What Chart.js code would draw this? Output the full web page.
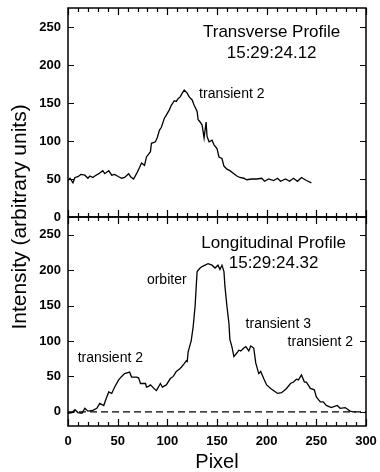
<!DOCTYPE html>
<html>
<head>
<meta charset="utf-8">
<script src="https://cdn.jsdelivr.net/npm/chart.js@4"></script>
<style>
  html, body { margin: 0; padding: 0; background: #fff; }
  #wrap { position: relative; width: 380px; height: 472px; }
</style>
</head>
<body>
<div id="wrap"><canvas id="profiles"></canvas></div>
<script>
// Transverse profile (top panel)
const transPixel = [0, 2, 5, 7, 10, 13, 17, 20, 22, 25, 27, 31, 35, 37, 41, 44, 47, 51, 54, 57,
  61, 63, 66, 69, 72, 74, 77, 79, 83, 84, 88, 90, 92, 94, 97, 99, 102, 104, 107, 109,
  111, 113, 115, 117, 120, 122, 125, 127, 130, 131, 133, 135, 137, 139, 140, 142, 145, 147, 150, 152,
  155, 157, 160, 163, 166, 170, 173, 177, 180, 185, 190, 195, 198, 202, 207, 211, 214, 219, 223, 227,
  231, 235, 240, 245];
const transIntensity = [48, 51, 45, 52, 53, 56, 55, 51, 54, 52, 54, 57, 61, 57, 61, 55, 56, 53, 51, 52,
  57, 53, 50, 57, 65, 71, 68, 79, 86, 97, 99, 105, 114, 118, 130, 134, 141, 147, 153, 152,
  156, 158, 163, 167, 163, 158, 154, 147, 139, 128, 125, 121, 104, 125, 106, 99, 101, 95, 90, 79,
  77, 67, 63, 61, 58, 54, 52, 51, 49, 50, 50, 51, 47, 50, 48, 51, 47, 50, 47, 51,
  47, 52, 48, 45];

// Longitudinal profile (bottom panel)
const longPixel = [0, 4, 7, 10, 14, 17, 20, 25, 29, 32, 36, 38, 41, 44, 47, 51, 54, 57, 62, 64,
  69, 71, 73, 78, 79, 81, 83, 88, 89, 93, 95, 99, 103, 106, 109, 112, 114, 117, 119, 120,
  121, 124, 126, 128, 129, 130, 133, 135, 138, 141, 145, 148, 151, 153, 155, 157, 158, 160, 162, 163,
  165, 167, 170, 172, 174, 177, 179, 182, 184, 187, 189, 192, 194, 197, 200, 204, 209, 211, 215, 220,
  224, 227, 230, 232, 235, 238, 240, 244, 248, 250, 254, 257, 260, 265, 271, 274, 279, 284, 287, 290];
const longIntensity = [-2, -1, 3, -1, -2, 5, 1, 2, 5, 12, 9, 17, 28, 26, 35, 45, 50, 54, 56, 49,
  49, 48, 40, 40, 35, 36, 38, 31, 30, 40, 35, 38, 47, 50, 57, 60, 63, 68, 72, 71,
  85, 100, 120, 150, 175, 198, 203, 205, 207, 209, 207, 203, 207, 201, 207, 198, 177, 149, 125, 102,
  92, 78, 83, 87, 86, 90, 92, 86, 93, 90, 69, 54, 57, 47, 38, 33, 28, 26, 27, 33,
  40, 42, 46, 45, 52, 42, 42, 33, 31, 21, 14, 14, 9, 6, 9, 5, 6, 1, 0, 0];

// Zero reference (dashed) in the bottom panel
const zeroPixel = [0, 300];
const zeroIntensity = [0, 0];

// Axis ticks
const pixelTicks = [0, 50, 100, 150, 200, 250, 300];
const intensityTicks = [0, 50, 100, 150, 200, 250];

const FONT = 'Arial, "Liberation Sans", Helvetica, sans-serif';

// Text labels inside the panels (placed in data units of each panel)
const notes = [
  { text: 'Transverse Profile', x: 205, y: 243, axis: 'yTop', size: 17, align: 'center' },
  { text: '15:29:24.12', x: 205, y: 215, axis: 'yTop', size: 17, align: 'center' },
  { text: 'transient 2', x: 132, y: 162, axis: 'yTop', size: 14, align: 'left' },
  { text: 'Longitudinal Profile', x: 207, y: 238.5, axis: 'yBot', size: 17, align: 'center' },
  { text: '15:29:24.32', x: 207, y: 210, axis: 'yBot', size: 17, align: 'center' },
  { text: 'orbiter', x: 99.4, y: 186.5, axis: 'yBot', size: 14, align: 'center' },
  { text: 'transient 2', x: 42.6, y: 75.6, axis: 'yBot', size: 14, align: 'center' },
  { text: 'transient 3', x: 211.7, y: 123.8, axis: 'yBot', size: 14, align: 'center' },
  { text: 'transient 2', x: 254, y: 98.3, axis: 'yBot', size: 14, align: 'center' }
];

function toPoints(xs, ys) {
  return xs.map((x, i) => ({ x: x, y: ys[i] }));
}

// no automatic padding for half-labels at the axis ends
function noEdgePadding(s) {
  s.paddingTop = 0;
  s.paddingBottom = 0;
  s.paddingLeft = 0;
  s.paddingRight = 0;
}

// Boxes round each panel, with inward ticks on all four sides
const frameTicks = {
  id: 'frameTicks',
  afterDraw(chart) {
    const ctx = chart.ctx;
    const xs = chart.scales.x;
    ctx.save();
    ctx.strokeStyle = '#000';
    ['yTop', 'yBot'].forEach(id => {
      const ys = chart.scales[id];
      ctx.lineWidth = 1.5;
      ctx.strokeRect(xs.left, ys.top, xs.right - xs.left, ys.bottom - ys.top);

      ctx.lineWidth = 1.2;
      ctx.beginPath();
      for (let i = 0; i < pixelTicks.length; i++) {
        const last = i === pixelTicks.length - 1;
        const step = last ? 0 : (pixelTicks[i + 1] - pixelTicks[i]) / 5;
        const count = last ? 1 : 5;
        for (let k = 0; k < count; k++) {
          const v = pixelTicks[i] + k * step;
          const px = Math.round(xs.getPixelForValue(v)) + 0.5;
          const len = k === 0 ? 7 : 4;
          ctx.moveTo(px, ys.top);
          ctx.lineTo(px, ys.top + len);
          ctx.moveTo(px, ys.bottom);
          ctx.lineTo(px, ys.bottom - len);
        }
      }
      intensityTicks.forEach(v => {
        const py = Math.round(ys.getPixelForValue(v)) + 0.5;
        ctx.moveTo(xs.left, py);
        ctx.lineTo(xs.left + 6, py);
        ctx.moveTo(xs.right, py);
        ctx.lineTo(xs.right - 6, py);
      });
      ctx.stroke();
    });
    ctx.restore();
  }
};

const panelNotes = {
  id: 'panelNotes',
  afterDatasetsDraw(chart) {
    const ctx = chart.ctx;
    const xs = chart.scales.x;
    ctx.save();
    ctx.fillStyle = '#000';
    ctx.textBaseline = 'middle';
    notes.forEach(n => {
      ctx.font = n.size + 'px ' + FONT;
      ctx.textAlign = n.align;
      ctx.fillText(n.text, xs.getPixelForValue(n.x), chart.scales[n.axis].getPixelForValue(n.y));
    });
    ctx.restore();
  }
};

function intensityAxis(min, weight) {
  return {
    type: 'linear',
    position: 'left',
    stack: 'panels',
    stackWeight: 1,
    weight: weight,
    min: min,
    max: 275,
    grid: { display: false, drawTicks: false },
    border: { display: false },
    afterBuildTicks: s => { s.ticks = intensityTicks.map(v => ({ value: v })); },
    afterFit: s => { s.width = 38; noEdgePadding(s); },
    ticks: {
      padding: 7,
      color: '#000',
      autoSkip: false,
      font: { family: FONT, size: 13, weight: 'bold' }
    }
  };
}

new Chart(document.getElementById('profiles'), {
  type: 'line',
  data: {
    datasets: [
      {
        data: toPoints(transPixel, transIntensity),
        yAxisID: 'yTop',
        borderColor: '#000',
        borderWidth: 1.3,
        pointRadius: 0,
        tension: 0
      },
      {
        data: toPoints(longPixel, longIntensity),
        yAxisID: 'yBot',
        borderColor: '#000',
        borderWidth: 1.3,
        pointRadius: 0,
        tension: 0
      },
      {
        data: toPoints(zeroPixel, zeroIntensity),
        yAxisID: 'yBot',
        borderColor: '#000',
        borderWidth: 1.3,
        borderDash: [7, 4],
        pointRadius: 0
      }
    ]
  },
  options: {
    responsive: true,
    maintainAspectRatio: false,
    animation: false,
    events: [],
    layout: { padding: { top: 8, right: 14, left: 0, bottom: 0 } },
    plugins: {
      legend: { display: false },
      tooltip: { enabled: false }
    },
    scales: {
      x: {
        type: 'linear',
        min: 0,
        max: 300,
        grid: { display: false, drawTicks: false },
        border: { display: false },
        afterBuildTicks: s => { s.ticks = pixelTicks.map(v => ({ value: v })); },
        afterFit: s => { s.height = 46; noEdgePadding(s); },
        ticks: {
          padding: 8,
          color: '#000',
          autoSkip: false,
          maxRotation: 0,
          font: { family: FONT, size: 13, weight: 'bold' }
        },
        title: {
          display: true,
          text: 'Pixel',
          color: '#000',
          padding: 0,
          font: { family: FONT, size: 20, lineHeight: 1 }
        }
      },
      yBot: intensityAxis(-20, 1),
      yTop: intensityAxis(0, 2),
      // carries only the shared y title, centred on both panels
      yTitle: {
        type: 'linear',
        position: 'left',
        weight: 10,
        grid: { display: false, drawTicks: false },
        border: { display: false },
        ticks: { display: false },
        afterFit: s => { s.width = 30; noEdgePadding(s); },
        title: {
          display: true,
          text: 'Intensity (arbitrary units)',
          color: '#000',
          padding: { top: 8, bottom: 0 },
          font: { family: FONT, size: 21, lineHeight: 1.2 }
        }
      }
    }
  },
  plugins: [frameTicks, panelNotes]
});
</script>
</body>
</html>
